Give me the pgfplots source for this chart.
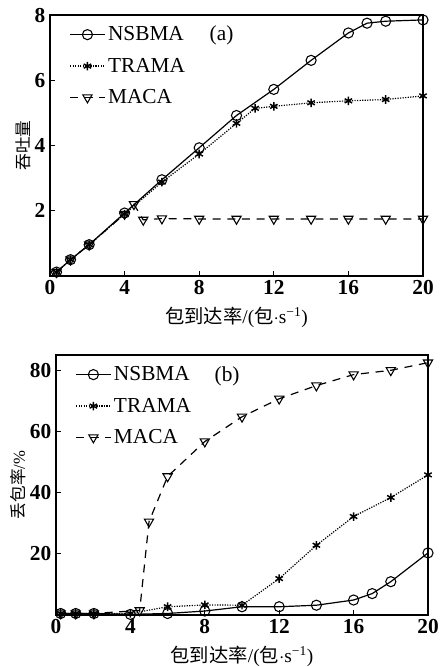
\documentclass[border=0pt]{standalone}
\usepackage{fontspec}
\setmainfont{Liberation Serif}
\newfontfamily\cjk{Noto Sans CJK SC}
\usepackage{pgfplots}
\pgfplotsset{compat=1.18}
\pgfplotsset{
  common/.style={
    scale only axis,
    xmin=0, xmax=20, ymin=0,
    xtick={0,4,8,12,16,20},
    tick pos=left,
    tick align=inside,
    major tick length=4pt,
    axis line style={line width=0.9pt},
    every tick/.style={line width=0.8pt,black},
    /pgf/number format/assume math mode=true,
    tick label style={font=\fontsize{16}{16}\selectfont\bfseries},
    xlabel={{\cjk 包到达率}/({\cjk 包}$\cdot$s\textsuperscript{−1})},
    xlabel style={font=\fontsize{14.5}{15}\selectfont, yshift=-2pt},
    ylabel style={font=\fontsize{12.5}{13}\selectfont, yshift=-4pt},
    legend style={draw=none, fill=none, at={(0.048,0.972)}, anchor=north west,
      font=\fontsize{16}{16}\selectfont, row sep=7.5pt, inner sep=1pt},
    legend cell align=left,
    legend image code/.code={%
      \draw[mark repeat=2,mark phase=2,#1] plot coordinates {(0pt,0pt)(13pt,0pt)(26pt,0pt)};},
    ns/.style={black, line width=0.9pt, mark=o, mark size=3.8pt, mark options={solid, fill=white, line width=0.8pt}},
    tr/.style={black, line width=0.9pt, densely dotted, mark=asterisk, mark size=3.2pt, mark options={solid, line width=1.1pt}},
    ma/.style={black, line width=0.9pt, dash pattern=on 6pt off 5pt, mark=triangle, mark size=4pt, mark options={solid, rotate=180, fill=white, line width=0.8pt}},
  }
}
\begin{document}
\begin{tikzpicture}
\path[use as bounding box] (0,0) rectangle (330.75pt,-500.25pt);
% (a)
\begin{axis}[common,
  at={(37.5pt,-207pt)}, anchor=south west,
  width=279.75pt, height=195.75pt,
  ymax=8, ytick={2,4,6,8},
  ylabel={\cjk 吞吐量}]
\addplot[ns] coordinates {(0.35,0.12)(1.1,0.5)(2.1,0.96)(4,1.93)(6,2.95)(8,3.93)(10,4.92)(12,5.72)(14,6.61)(16,7.45)(17,7.75)(18,7.81)(20,7.85)};
\addlegendentry{NSBMA}
\addplot[tr] coordinates {(0.35,0.12)(1.1,0.5)(2.1,0.96)(4,1.9)(6,2.88)(8,3.74)(10,4.68)(11,5.14)(12,5.2)(14,5.31)(16,5.37)(18,5.41)(20,5.52)};
\addlegendentry{TRAMA}
\addplot[ma] coordinates {(0.35,0.12)(1.1,0.5)(2.1,0.96)(4,1.9)(4.5,2.2)(5,1.72)(6,1.76)(8,1.75)(10,1.75)(12,1.75)(14,1.75)(16,1.75)(18,1.75)(20,1.75)};
\addlegendentry{MACA}
\node[font=\fontsize{16}{16}\selectfont] at (axis cs:9.2,7.37) {(a)};
\end{axis}
% (b)
\begin{axis}[common,
  at={(42pt,-461.25pt)}, anchor=south west,
  width=279pt, height=195pt,
  ymax=85, ytick={20,40,60,80},
  ylabel={{\cjk 丢包率}/\%}]
\addplot[ns] coordinates {(0.25,0.5)(1.06,0.5)(2.04,0.5)(4,0.2)(6,0.5)(8,1.3)(10,2.7)(12,2.7)(14,3.2)(16,4.9)(17,7.0)(18,10.9)(20,20.3)};
\addlegendentry{NSBMA}
\addplot[tr] coordinates {(0.25,0.5)(1.06,0.5)(2.04,0.5)(4,0.5)(6,2.7)(8,3.3)(10,3.2)(12,11.9)(14,22.8)(16,32.2)(18,38.4)(20,45.8)};
\addlegendentry{TRAMA}
\addplot[ma] coordinates {(0.25,0.5)(1.06,0.5)(2.04,0.5)(4.5,1.5)(5,30.5)(6,45.3)(8,56.7)(10,64.8)(12,70.7)(14,75)(16,78.6)(18,80)(20,82.5)};
\addlegendentry{MACA}
\node[font=\fontsize{16}{16}\selectfont] at (axis cs:9.2,78) {(b)};
\end{axis}
\end{tikzpicture}
\end{document}
